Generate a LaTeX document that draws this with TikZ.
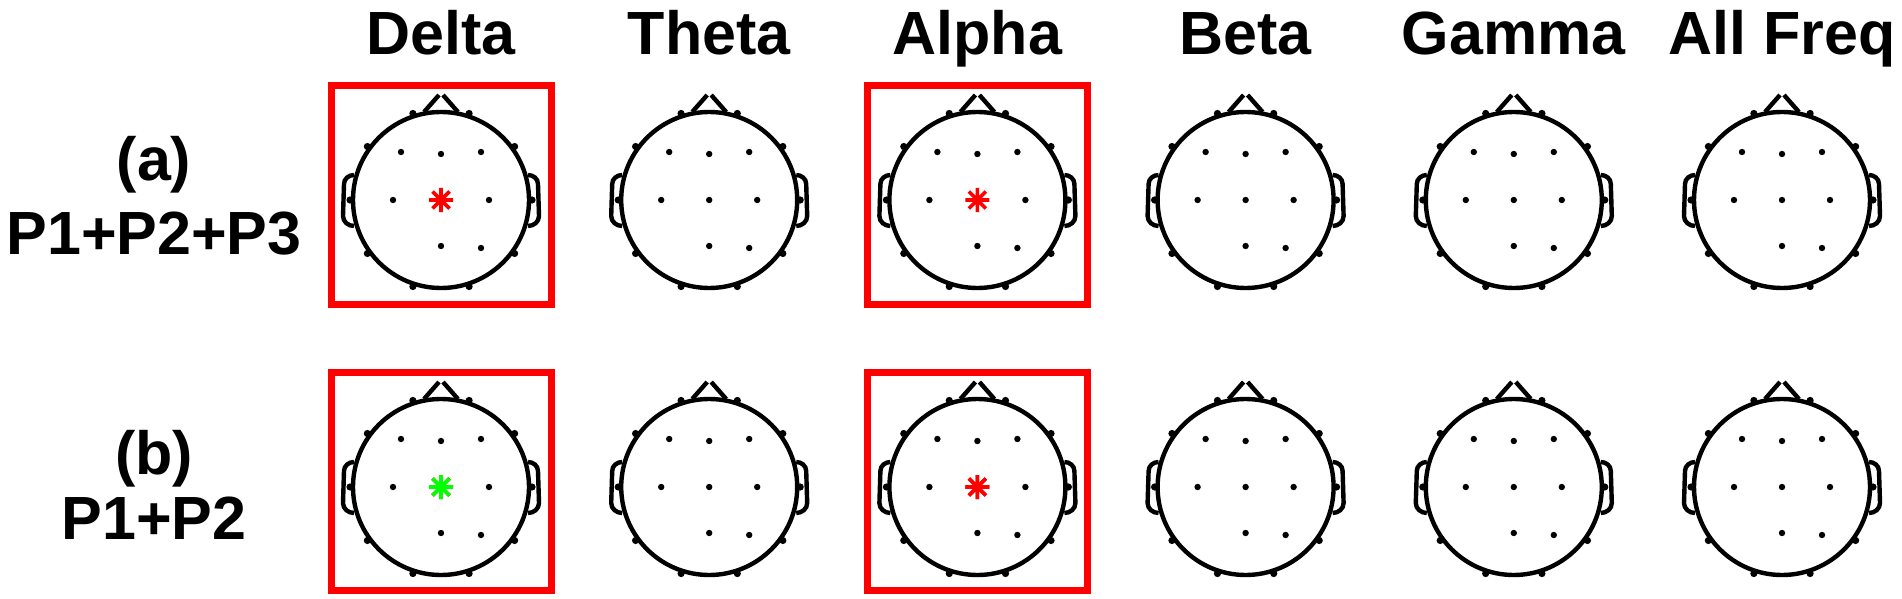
\documentclass[tikz,border=0pt]{standalone}
\usepackage{fontspec}
\setmainfont{Liberation Sans}
\begin{document}
\begin{tikzpicture}[x=0.5pt,y=-0.5pt,
  headline/.style={line width=2.2pt,black},
  elec/.style={fill=black},
  hibox/.style={draw=red,line width=3.5pt},
  lbl/.style={font=\fontsize{30.5pt}{32pt}\selectfont\bfseries,anchor=base},
  starr/.style={line width=1.8pt}]
\useasboundingbox (0,0) rectangle (1902,599);
\newcommand{\headplot}[3]{%
 \begin{scope}[shift={(#1,#2)}]
  \coordinate (#3) at (0,0);
  \draw[headline] (0,0) circle (88);
  \draw[headline] (-17,-88) -- (-2,-105);
  \draw[headline] (17,-88) -- (2,-105);
  \draw[headline] (-87,-25) to[out=180,in=90] (-97,-16) -- (-98,16) to[out=-90,in=180] (-87,26);
  \draw[headline] (87,-25) to[out=0,in=90] (97,-16) -- (98,16) to[out=-90,in=0] (87,26);
  \foreach \a in {36,72,108,144,216,252,288,324,0,180} \fill[elec] (\a:91) circle (3.6);
  \foreach \p in {(-40,-48),(0,-46),(40,-48),(-48,0),(0,0),(48,0),(0,46),(40,48)} \fill[elec] \p circle (3.2);
 \end{scope}}
\newcommand{\astr}[4]{%
 \begin{scope}[shift={(#1,#2)},shift={(#3)}]
 \fill[white] (0,0) circle (5);
 \draw[starr,#4] (-12,0) -- (12,0) (0,-12) -- (0,12) (-8.5,-8.5) -- (8.5,8.5) (-8.5,8.5) -- (8.5,-8.5);
 \end{scope}}
\foreach \n/\t [count=\i from 0] in {d/Delta,t/Theta,a/Alpha,b/Beta,g/Gamma,f/All Freq}{
  \pgfmathsetmacro{\cx}{441+268.2*\i}
  \node[lbl] (title\n) at (\cx,55) {\t};
  \headplot{\cx}{200}{ha\n}
  \headplot{\cx}{487}{hb\n}
}
\astr{48}{0}{had}{red}
\astr{48}{0}{hbd}{red}
\astr{-40}{-48}{hbd}{green}
\astr{48}{0}{haa}{red}
\astr{48}{0}{hba}{red}
\astr{-28}{-88}{hba}{red}
\node[lbl] (la1) at (154,181) {(a)};
\node[lbl] (la2) at (154,254) {P1+P2+P3};
\node[lbl] (lb1) at (154,474) {(b)};
\node[lbl] (lb2) at (154,539) {P1+P2};
\draw[hibox] (331,86) rectangle (551,304);
\draw[hibox] (331,372) rectangle (551,590);
\draw[hibox] (867,86) rectangle (1087,304);
\draw[hibox] (867,372) rectangle (1087,590);
\end{tikzpicture}
\end{document}
